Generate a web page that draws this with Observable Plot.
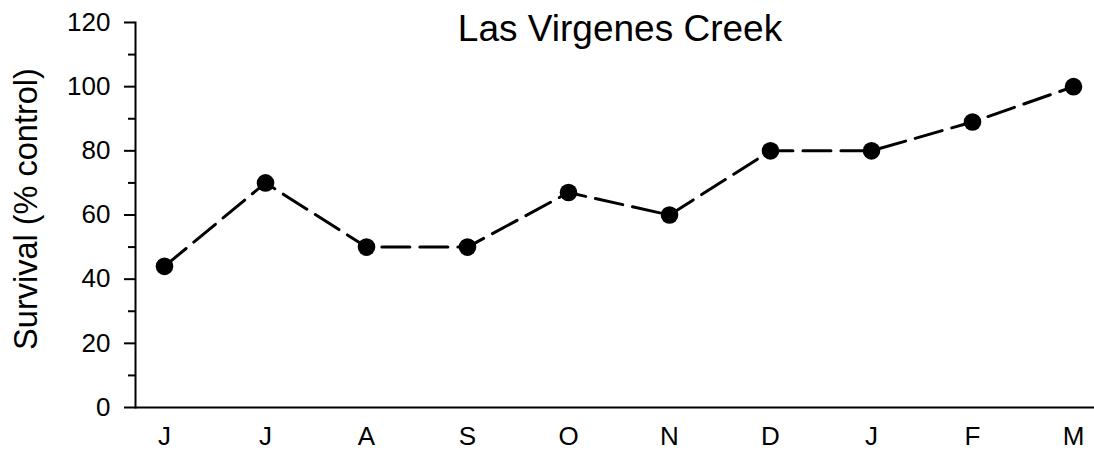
<!DOCTYPE html>
<html>
<head>
<meta charset="utf-8">
<script src="https://cdn.jsdelivr.net/npm/d3@7"></script>
<script src="https://cdn.jsdelivr.net/npm/@observablehq/plot@0.6"></script>
<style>
  html, body { margin: 0; padding: 0; background: #fff; }
  #chart svg { display: block; }
</style>
</head>
<body>
<div id="chart"></div>
<script>
const months = ["J", "J", "A", "S", "O", "N", "D", "J", "F", "M"];
const survival = [44, 70, 50, 50, 67, 60, 80, 80, 89, 100];
const yMajorTicks = [0, 20, 40, 60, 80, 100, 120];
const yMinorTicks = [10, 30, 50, 70, 90, 110];
const title = "Las Virgenes Creek";
const yLabel = "Survival (% control)";

const data = months.map((m, i) => ({key: i, month: m, value: survival[i]}));
const font = "Liberation Sans, Arial, sans-serif";

const chart = Plot.plot({
  width: 1094,
  height: 456,
  marginLeft: 135,
  marginTop: 22,
  marginBottom: 49,
  marginRight: 0,
  style: {fontFamily: font, fontSize: "26px", color: "#000", background: "#fff"},
  x: {type: "point", domain: data.map(d => d.key), range: [160, 1076], padding: 0},
  y: {domain: [0, 120], range: [407, 22]},
  marks: [
    Plot.axisX({ticks: data.map(d => d.key), tickFormat: i => months[i], tickSize: 0, tickPadding: 19, fontSize: 26, label: null}),
    Plot.axisY({ticks: yMajorTicks, tickSize: 11, tickPadding: 14, strokeWidth: 2, fontSize: 26, label: null}),
    Plot.axisY({ticks: yMinorTicks, tickSize: 7, strokeWidth: 2, tickFormat: () => "", label: null}),
    Plot.text([yLabel], {frameAnchor: "left", textAnchor: "middle", lineAnchor: "middle", dx: -109, dy: -6, rotate: -90, fontSize: 32.5, fill: "#000"}),
    Plot.ruleY([0], {strokeWidth: 2, stroke: "#000"}),
    Plot.frame({anchor: "left", strokeWidth: 2, stroke: "#000"}),
    Plot.line(data, {x: "key", y: "value", stroke: "#000", strokeWidth: 3, strokeDasharray: "28,10"}),
    Plot.dot(data, {x: "key", y: "value", r: 8.8, fill: "#000", stroke: "none"}),
    Plot.text([title], {frameAnchor: "top", lineAnchor: "top", dx: 5, dy: -8, fontSize: 37, fill: "#000"})
  ]
});
document.getElementById("chart").appendChild(chart);
</script>
</body>
</html>
